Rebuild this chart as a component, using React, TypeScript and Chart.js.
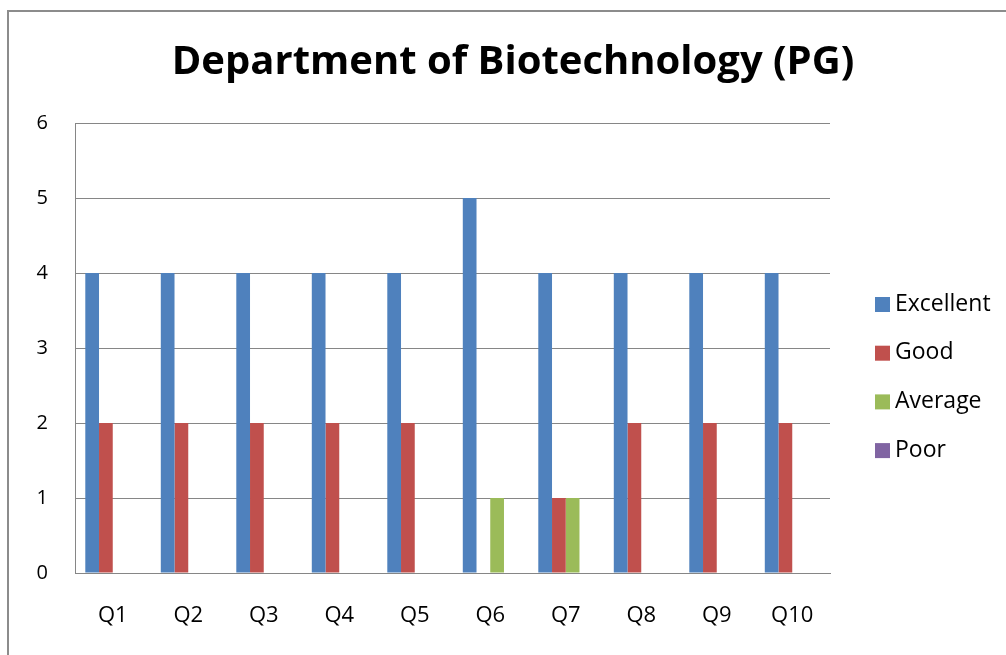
import React, { useEffect, useRef } from "react";
import { Chart, registerables } from "chart.js";

Chart.register(...registerables);

const categories = ["Q1", "Q2", "Q3", "Q4", "Q5", "Q6", "Q7", "Q8", "Q9", "Q10"];
const excellent = [4, 4, 4, 4, 4, 5, 4, 4, 4, 4];
const good = [2, 2, 2, 2, 2, 0, 1, 2, 2, 2];
const average = [0, 0, 0, 0, 0, 1, 1, 0, 0, 0];
const poor = [0, 0, 0, 0, 0, 0, 0, 0, 0, 0];
const seriesNames = ["Excellent", "Good", "Average", "Poor"];
const seriesColors = ["#4F81BD", "#C0504D", "#9BBB59", "#8064A2"];
const titleText = "Department of Biotechnology (PG)";

const FONT = "'Open Sans', 'Liberation Sans', sans-serif";

const framePlugin = {
  id: "frame",
  beforeDraw(chart: any) {
    const ctx = chart.ctx;
    ctx.save();
    ctx.fillStyle = "#ffffff";
    ctx.fillRect(0, 0, chart.width, chart.height);
    ctx.fillStyle = "#8C8C8C";
    ctx.fillRect(7, 10, chart.width - 7, 2);
    ctx.fillRect(7, 10, 2, chart.height - 10);
    ctx.restore();
  },
};

const titlePlugin = {
  id: "customTitle",
  afterDraw(chart: any) {
    const ctx = chart.ctx;
    ctx.save();
    ctx.font = `bold 40px ${FONT}`;
    ctx.textBaseline = "middle";
    ctx.textAlign = "center";
    ctx.fillStyle = "#000000";
    ctx.fillText(titleText, 513, 63);
    ctx.restore();
  },
};

const legendPlugin = {
  id: "customLegend",
  afterDraw(chart: any) {
    const ctx = chart.ctx;
    ctx.save();
    ctx.font = `23px ${FONT}`;
    ctx.textBaseline = "middle";
    ctx.textAlign = "left";
    chart.data.datasets.forEach((ds: any, i: number) => {
      const cy = 304 + i * 48.7;
      ctx.fillStyle = ds.backgroundColor;
      ctx.fillRect(875, cy - 7, 15, 15);
      ctx.fillStyle = "#000000";
      ctx.fillText(ds.label, 895, cy);
    });
    ctx.restore();
  },
};

export default function App() {
  const ref = useRef<HTMLCanvasElement>(null);
  useEffect(() => {
    const data = [excellent, good, average, poor];
    const chart = new Chart(ref.current!, {
      type: "bar",
      data: {
        labels: categories,
        datasets: seriesNames.map((name, i) => ({
          label: name,
          data: data[i],
          backgroundColor: seriesColors[i],
          borderWidth: 0,
          categoryPercentage: 4 / 5.5,
          barPercentage: 1,
        })),
      },
      options: {
        animation: false,
        responsive: false,
        layout: { padding: { left: 0, right: 176, top: 123, bottom: 0 } },
        plugins: {
          legend: { display: false },
          tooltip: { enabled: false },
          title: { display: false },
        },
        scales: {
          x: {
            afterFit(scale: any) {
              scale.height = 82;
            },
            grid: { display: false, drawTicks: false },
            border: { display: true, color: "#868686", width: 1 },
            ticks: { color: "#000000", font: { family: FONT, size: 22 }, padding: 30 },
          },
          y: {
            min: 0,
            max: 6,
            afterFit(scale: any) {
              scale.width = 75;
            },
            grid: { color: "#868686", lineWidth: 1, drawTicks: false },
            border: { display: true, color: "#868686", width: 1 },
            ticks: { stepSize: 1, color: "#000000", font: { family: FONT, size: 20 }, padding: 27 },
          },
        },
      },
      plugins: [framePlugin, titlePlugin, legendPlugin],
    });
    return () => chart.destroy();
  }, []);
  return (
    <div style={{ position: "fixed", left: 0, top: 0, width: 1006, height: 655 }}>
      <canvas ref={ref} width={1006} height={655} style={{ width: 1006, height: 655 }} />
    </div>
  );
}
